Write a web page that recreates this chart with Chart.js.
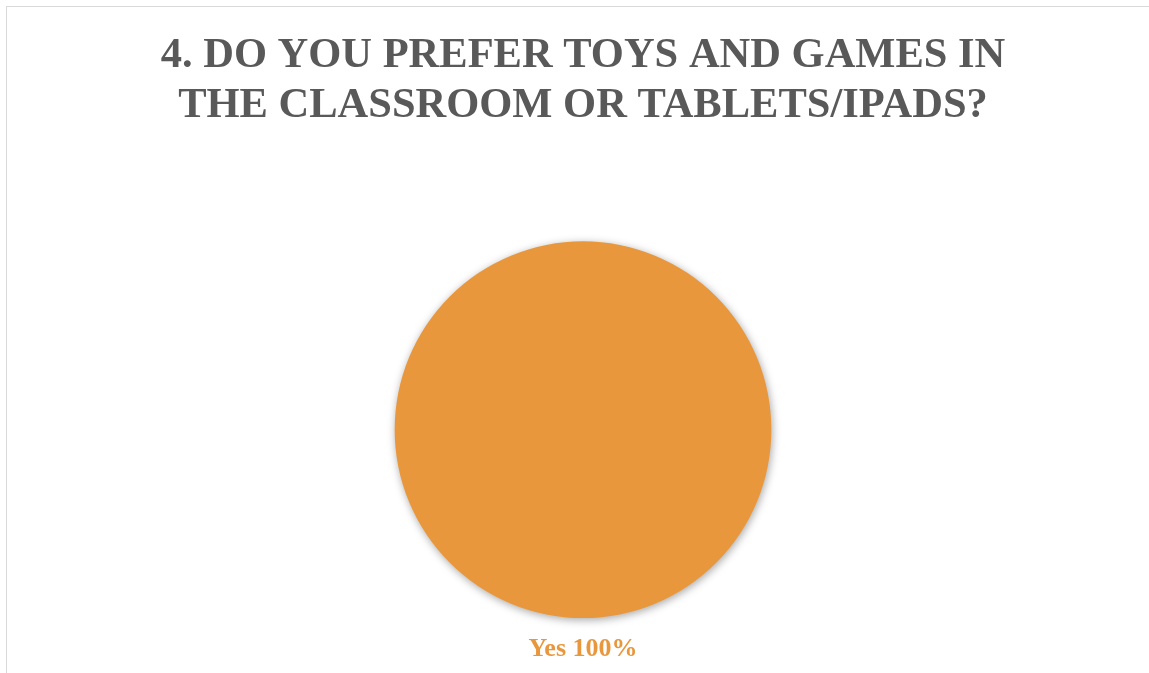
<!DOCTYPE html>
<html>
<head>
<meta charset="utf-8">
<script src="https://cdn.jsdelivr.net/npm/chart.js@4/dist/chart.umd.min.js"></script>
<style>
  html, body { margin: 0; padding: 0; background: #fff; overflow: hidden; }
  #frame {
    position: absolute; left: 6px; top: 6px;
    width: 1152px; height: 680px;
    border: 1px solid #d9d9d9;
  }
  #pieChart { display: block; }
</style>
</head>
<body>
<div id="frame">
  <canvas id="pieChart" width="1152" height="680"></canvas>
</div>
<script>
const TITLE_LINES = ['4. DO YOU PREFER TOYS AND GAMES IN', 'THE CLASSROOM OR TABLETS/IPADS?'];
const categories = ['Yes'];
const answers = [100];
const sliceColors = ['#E9973C'];

// writes "Yes 100%" under the slice, like the Excel data label
const sliceLabels = {
    id: 'sliceLabels',
    afterDatasetsDraw(chart) {
        const ctx = chart.ctx;
        const meta = chart.getDatasetMeta(0);
        const total = answers.reduce((a, b) => a + b, 0);
        meta.data.forEach((arc, i) => {
            const pct = Math.round(answers[i] / total * 100);
            ctx.save();
            ctx.font = 'bold 26px "Liberation Serif", "Times New Roman", serif';
            ctx.fillStyle = sliceColors[i];
            ctx.textAlign = 'center';
            ctx.textBaseline = 'alphabetic';
            ctx.fillText(categories[i] + ' ' + pct + '%', arc.x, arc.y + arc.outerRadius + 38);
            ctx.restore();
        });
    }
};

// soft drop shadow behind the pie
const pieShadow = {
    id: 'pieShadow',
    beforeDatasetDraw(chart) {
        const ctx = chart.ctx;
        ctx.save();
        ctx.shadowColor = 'rgba(0, 0, 0, 0.35)';
        ctx.shadowBlur = 9;
        ctx.shadowOffsetX = 1;
        ctx.shadowOffsetY = 2;
    },
    afterDatasetDraw(chart) {
        chart.ctx.restore();
    }
};

new Chart(document.getElementById('pieChart'), {
    type: 'pie',
    data: {
        labels: categories,
        datasets: [{
            data: answers,
            backgroundColor: sliceColors,
            borderWidth: 0
        }]
    },
    options: {
        responsive: false,
        animation: false,
        layout: {
            padding: { top: 0, bottom: 69, left: 0, right: 0 }
        },
        plugins: {
            legend: { display: false },
            tooltip: { enabled: false },
            title: {
                display: true,
                text: TITLE_LINES,
                color: '#595959',
                font: { family: '"Liberation Serif", "Times New Roman", serif', size: 42.5, weight: 'bold', lineHeight: 1.18 },
                padding: { top: 24, bottom: 110 }
            }
        }
    },
    plugins: [pieShadow, sliceLabels]
});
</script>
</body>
</html>
